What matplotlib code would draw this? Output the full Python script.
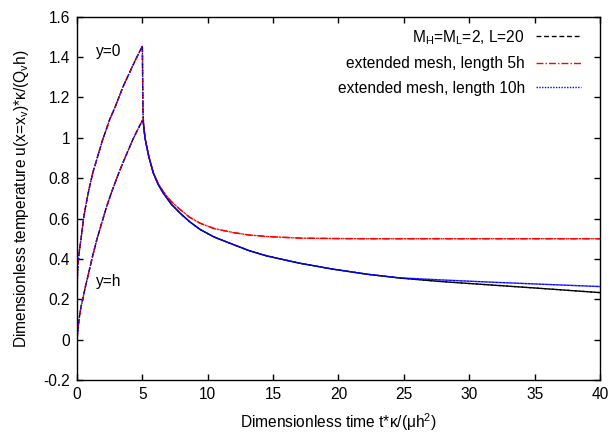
import numpy as np
import matplotlib
matplotlib.use("Agg")
import matplotlib.pyplot as plt

plt.rcParams['font.family'] = ['Liberation Sans', 'DejaVu Sans']
plt.rcParams['mathtext.default'] = 'regular'
fs = 11.2

# heating phase (same for all three meshes)
t_rise_top = [0.0, 0.01, 0.03, 0.06, 0.13, 0.2, 0.31, 0.5, 0.69, 0.9, 1.2, 1.5, 1.96, 2.5, 2.93,
              3.5, 4.0, 4.5, 5.0, 5.02, 5.05, 5.1, 5.2]
u_rise_top = [0.0, 0.22, 0.31, 0.36, 0.41, 0.45, 0.50, 0.60, 0.67, 0.74, 0.825, 0.89, 0.99, 1.09, 1.155,
              1.25, 1.32, 1.39, 1.454, 1.30, 1.12, 1.06, 1.0]
t_rise_bot = [0.0, 0.05, 0.1, 0.2, 0.3, 0.43, 0.6, 0.89, 1.2, 1.51, 1.9, 2.27, 2.7, 3.19, 3.7,
              4.26, 4.6, 5.0, 5.05, 5.1, 5.2]
u_rise_bot = [0.0, 0.03, 0.07, 0.12, 0.16, 0.197, 0.25, 0.33, 0.415, 0.494, 0.58, 0.66, 0.74, 0.825, 0.905,
              0.99, 1.035, 1.086, 1.08, 1.06, 1.0]

# cooling phase, both probes coincide
t_decay = [5.33, 5.5, 5.84, 6.2, 6.6, 7.2, 7.88, 8.6, 9.41, 10.5, 12.0, 13.2, 14.5, 17.0, 19.6,
           22.2, 24.7, 27.8, 31.6, 35.0, 40.0]
u_ref   = [0.957, 0.905, 0.825, 0.770, 0.726, 0.672, 0.627, 0.585, 0.546, 0.508, 0.470, 0.440, 0.415, 0.379, 0.349,
           0.324, 0.305, 0.288, 0.271, 0.256, 0.233]
u_ext5  = [0.957, 0.905, 0.826, 0.775, 0.733, 0.685, 0.645, 0.607, 0.577, 0.550, 0.530, 0.518, 0.511, 0.503, 0.501,
           0.500, 0.500, 0.500, 0.500, 0.500, 0.500]
u_ext10 = [0.957, 0.905, 0.825, 0.770, 0.726, 0.672, 0.627, 0.585, 0.546, 0.508, 0.470, 0.440, 0.415, 0.379, 0.349,
           0.324, 0.306, 0.296, 0.285, 0.276, 0.263]

labels = ['M$_H$=M$_L$=2, L=20', 'extended mesh, length 5h', 'extended mesh, length 10h']
colors = ['black', 'red', 'blue']
dashes = [(3.5, 2.0), (5.0, 1.5, 1.0, 1.5), (1.0, 1.0)]

fig = plt.figure(figsize=(6.13, 4.33), dpi=100)
ax = fig.add_axes([0.1256, 0.1224, 0.8532, 0.839])

for lab, col, ds, ud in zip(labels, colors, dashes, [u_ref, u_ext5, u_ext10]):
    ax.plot(t_rise_top + t_decay, u_rise_top + ud, color=col, lw=1.0, dashes=ds, label=lab)
    ax.plot(t_rise_bot + t_decay, u_rise_bot + ud, color=col, lw=1.0, dashes=ds)

ax.text(1.45, 1.43, 'y=0', fontsize=fs, va='center')
ax.text(1.45, 0.29, 'y=h', fontsize=fs, va='center')

ax.set_xlim(0, 40)
ax.set_ylim(-0.2, 1.6)
ax.set_xticks(np.arange(0, 41, 5))
ax.set_yticks(np.arange(-0.2, 1.61, 0.2))
ax.set_yticklabels(['-0.2', '0', '0.2', '0.4', '0.6', '0.8', '1', '1.2', '1.4', '1.6'])
ax.tick_params(direction='in', top=True, right=True, length=4, width=1, labelsize=fs, pad=5)
for s in ax.spines.values():
    s.set_linewidth(1.0)

ax.set_xlabel('Dimensionless time t*κ/(μh$^2$)', fontsize=fs, labelpad=7)
ax.set_ylabel('Dimensionless temperature u(x=x$_v$)*κ/(Q$_v$h)', fontsize=fs, labelpad=9)

ax.legend(loc='upper right', bbox_to_anchor=(0.99, 1.008), frameon=False, markerfirst=False,
          fontsize=fs, handlelength=2.9, handletextpad=0.7, labelspacing=0.62)

fig.savefig('out.png', dpi=100)
